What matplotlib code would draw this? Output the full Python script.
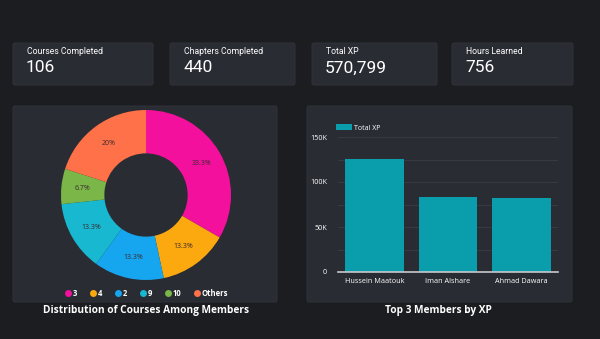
import matplotlib
matplotlib.use("Agg")
import matplotlib.pyplot as plt
from matplotlib.patches import FancyBboxPatch
from matplotlib.lines import Line2D
from matplotlib.ticker import FuncFormatter, MultipleLocator

W, H = 600, 339

kpi_labels = ["Courses Completed", "Chapters Completed", "Total XP", "Hours Learned"]
kpi_values = ["106", "440", "570,799", "756"]

pie_labels = ["3", "4", "2", "9", "10", "Others"]
pie_values = [33.3, 13.3, 13.3, 13.3, 6.7, 20.0]
pie_colors = ["#f2109c", "#fba90f", "#16a6f0", "#17b8d0", "#7ab648", "#ff7148"]

members = ["Hussein Maatouk", "Iman Alshare", "Ahmad Dawara"]
member_xp = [126000, 83000, 82500]

BG = "#1c1d21"
CARD = "#2a2c34"
EDGE = "#33353d"
TEXT = "#ffffff"
BAR = "#0a9dac"


def px_axes(fig, x0, y0, x1, y1):
    # pixel box (top-left origin) -> figure axes
    return fig.add_axes([x0 / W, 1 - y1 / H, (x1 - x0) / W, (y1 - y0) / H])


fig = plt.figure(figsize=(W / 100, H / 100), dpi=100, facecolor=BG)
bg = fig.add_axes([0, 0, 1, 1])
bg.set_xlim(0, W)
bg.set_ylim(H, 0)
bg.axis("off")
bg.set_facecolor(BG)


def card(x0, y0, x1, y1):
    bg.add_patch(FancyBboxPatch((x0, y0), x1 - x0, y1 - y0,
                                boxstyle="round,pad=0,rounding_size=2",
                                facecolor=CARD, edgecolor=EDGE, linewidth=0.6))


# KPI cards
kpi_boxes = [(13, 43, 153, 85), (170, 43, 295, 85), (312, 43, 437, 85), (452, 43, 573, 85)]
for (x0, y0, x1, y1), lab, val in zip(kpi_boxes, kpi_labels, kpi_values):
    card(x0, y0, x1, y1)
    bg.text(x0 + 14, y0 + 9, lab, color=TEXT, fontsize=6.2, family="Roboto",
            va="center", ha="left")
    bg.text(x0 + 13, y0 + 25, val, color=TEXT, fontsize=12.5, family="Roboto",
            va="center", ha="left")

# panels
card(13, 106, 277, 302)
card(307, 106, 572, 302)

# donut
cx, cy, r = 146, 195, 85
pax = px_axes(fig, cx - r, cy - r, cx + r, cy + r)
pax.set_facecolor("none")
wedges, _, autotexts = pax.pie(
    pie_values, colors=pie_colors, startangle=90, counterclock=False, radius=1,
    autopct=lambda p: f"{p:.1f}%".replace(".0%", "%"), pctdistance=0.75,
    wedgeprops=dict(width=0.51, edgecolor="none"),
    textprops=dict(color="#3a2a30", fontsize=5, family="Open Sans"))
pax.set_xlim(-1, 1)
pax.set_ylim(-1, 1)
pax.set_aspect("equal")
pax.axis("off")

handles = [Line2D([], [], marker="o", linestyle="none", markersize=5,
                  markerfacecolor=c, markeredgecolor="none") for c in pie_colors]
bg.legend(handles, pie_labels, loc="center", bbox_to_anchor=(146 / W, 1 - 293 / H),
          bbox_transform=fig.transFigure, ncol=6, frameon=False, fontsize=5.5,
          labelcolor=TEXT, handletextpad=0.1, columnspacing=1.6, handlelength=1.0,
          prop=dict(family="Open Sans", weight="bold", size=5.5))

bg.text(146, 311, "Distribution of Courses Among Members", color=TEXT, fontsize=7.3,
        family="Open Sans", weight="bold", ha="center", va="center")

# bar chart
bax = px_axes(fig, 338, 137, 558, 272)
bax.set_facecolor("none")
bax.bar(range(len(members)), member_xp, width=0.8, color=BAR, label="Total XP", zorder=3)
bax.set_xlim(-0.5, len(members) - 0.5)
bax.set_ylim(0, 150000)
bax.yaxis.set_major_locator(MultipleLocator(50000))
bax.yaxis.set_minor_locator(MultipleLocator(25000))
bax.yaxis.set_major_formatter(FuncFormatter(lambda v, _: "0" if v == 0 else f"{int(v / 1000)}K"))
bax.grid(True, axis="y", which="both", color="#3b3d45", linewidth=0.6, zorder=0)
bax.set_xticks(range(len(members)))
bax.set_xticklabels(members)
for s in ("top", "right", "left"):
    bax.spines[s].set_visible(False)
bax.spines["bottom"].set_color("#c8c8cc")
bax.spines["bottom"].set_linewidth(1.2)
bax.spines["bottom"].set_zorder(4)
bax.tick_params(axis="both", which="both", length=0, colors=TEXT, labelsize=5.2)
bax.tick_params(axis="y", pad=8)
bax.tick_params(axis="x", pad=4)
for t in bax.get_xticklabels() + bax.get_yticklabels():
    t.set_family("Open Sans")
bax.legend(loc="lower left", bbox_to_anchor=(-0.02, 1.02), frameon=False, fontsize=5,
           labelcolor=TEXT, handlelength=2.2, handleheight=1.0, handletextpad=0.4,
           borderaxespad=0, prop=dict(family="Open Sans", size=5))

bg.text(438, 311, "Top 3 Members by XP", color=TEXT, fontsize=7.3,
        family="Open Sans", weight="bold", ha="center", va="center")

fig.savefig("out.png", dpi=100, facecolor=BG)
